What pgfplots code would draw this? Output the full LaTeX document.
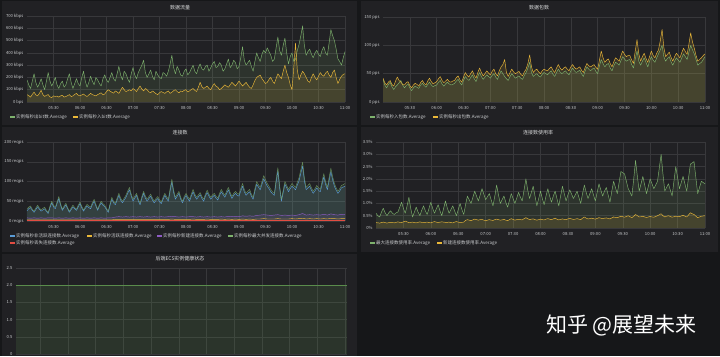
\documentclass[border=0pt]{standalone}
\usepackage{fontspec}
\setmainfont{Noto Sans CJK SC}
\usepackage{pgfplots}
\pgfplotsset{compat=1.18}
\usepackage{pgfplotstable}
\definecolor{pagebg}{HTML}{161719}
\definecolor{panelbg}{HTML}{212124}
\definecolor{gridc}{HTML}{38383B}
\definecolor{txt}{HTML}{D8D9DA}
\definecolor{tickc}{HTML}{C8CACC}
\definecolor{cg}{HTML}{7EB26D}
\definecolor{cy}{HTML}{EAB839}
\definecolor{cb}{HTML}{5A9BD5}
\definecolor{cp}{HTML}{8E5CC4}
\definecolor{cr}{HTML}{E24D42}
\definecolor{hg}{HTML}{5A8C4C}
\definecolor{hr}{HTML}{9A3030}

% 数据流量 (kbps)
\pgfplotstableread{
t g y
0 180 60
2 140 52
4 110 40
6 170 62
8 230 80
10 160 58
12 120 50
14 150 70
16 190 95
18 140 60
20 100 45
22 170 55
24 240 60
26 170 42
28 130 35
30 160 50
32 200 45
34 140 48
36 110 40
38 150 50
40 170 55
42 120 40
44 140 45
46 190 52
48 230 60
50 160 44
52 110 50
54 150 62
56 190 70
58 150 55
60 130 50
62 200 58
64 250 65
66 170 52
68 120 45
70 160 58
72 210 70
74 170 60
76 140 55
78 200 50
80 180 60
82 150 68
84 130 75
86 190 58
88 220 65
90 180 85
92 160 100
94 200 88
96 240 80
98 190 72
100 170 90
102 230 82
104 290 70
106 220 95
108 180 120
110 250 100
112 230 85
114 190 92
116 160 100
118 230 90
120 280 110
122 220 98
124 190 85
126 240 110
128 270 130
130 300 105
132 340 90
134 240 110
136 200 100
138 230 82
140 260 75
142 210 90
144 180 80
146 250 68
148 220 60
150 200 75
152 190 85
154 240 78
156 230 70
158 210 82
160 250 90
162 310 70
164 380 80
166 280 92
168 230 100
170 290 85
172 260 75
174 220 90
176 210 85
178 250 95
180 270 100
182 220 82
184 240 90
186 270 102
188 300 110
190 250 95
192 230 85
194 280 120
196 310 160
198 270 125
200 260 110
202 290 120
204 300 130
206 250 110
208 280 100
210 310 130
212 330 150
214 280 128
216 290 120
218 320 100
220 300 110
222 250 125
224 270 140
226 310 128
228 350 120
230 280 140
232 300 160
234 340 145
236 320 130
238 270 150
240 290 170
242 360 150
244 450 130
246 340 145
248 300 160
250 320 138
252 340 120
254 290 110
256 250 140
258 330 175
260 400 200
262 360 210
264 330 220
266 390 190
268 420 170
270 400 150
272 440 160
274 410 185
276 380 200
278 330 170
280 350 150
282 440 190
284 530 230
286 420 210
288 380 190
290 460 250
292 520 300
294 400 240
296 310 200
298 370 140
300 400 100
302 330 280
304 350 480
306 420 260
308 470 180
310 540 220
312 620 250
314 460 230
316 380 200
318 410 170
320 430 160
322 390 200
324 360 230
326 400 200
328 420 180
330 390 210
332 370 240
334 420 220
336 450 210
338 400 235
340 380 250
342 480 220
344 590 200
346 540 240
348 500 260
350 430 200
352 350 150
354 330 185
356 300 210
358 360 225
360 410 230
}\dA

% 数据包数 (pps)
\pgfplotstableread{
t g y
0 40 42
2 30 34
4 25 30
6 31 35
8 35 38
10 27 31
12 22 28
14 27 37
16 30 44
18 34 38
20 38 35
22 30 31
24 25 30
26 29 34
28 32 36
30 25 29
32 20 25
34 25 30
36 28 33
38 26 31
40 24 28
42 30 34
44 33 38
46 29 33
48 26 30
50 31 37
52 35 42
54 30 36
56 27 32
58 29 34
60 30 36
62 35 41
64 38 45
66 32 38
68 28 34
70 32 37
72 35 40
74 32 36
76 30 35
78 31 37
80 33 38
82 37 43
84 40 46
86 34 39
88 30 35
90 38 44
92 45 52
94 41 47
96 38 44
98 43 50
100 48 55
102 41 47
104 36 42
106 45 52
108 52 60
110 45 52
112 40 46
114 44 50
116 48 55
118 45 51
120 42 48
122 47 54
124 50 58
126 44 50
128 40 46
130 48 55
132 55 62
134 50 66
136 45 75
138 41 52
140 38 45
142 45 52
144 50 58
146 46 53
148 42 50
150 44 52
152 46 54
154 42 49
156 40 46
158 47 53
160 52 58
162 60 68
164 70 83
166 52 62
168 45 52
170 48 56
172 50 58
174 46 53
176 44 50
178 49 55
180 52 58
182 50 56
184 48 55
186 52 59
188 55 62
190 49 56
192 45 52
194 52 60
196 58 66
198 53 60
200 50 56
202 53 60
204 55 62
206 51 58
208 48 55
210 55 62
212 60 66
214 55 61
216 52 58
218 54 60
220 56 62
222 50 56
224 45 52
226 55 61
228 62 68
230 58 64
232 55 62
234 58 64
236 60 66
238 54 61
240 50 58
242 64 74
244 75 90
246 68 78
248 62 70
250 66 74
252 68 76
254 60 68
256 55 62
258 64 71
260 70 78
262 68 75
264 65 72
266 73 82
268 80 90
270 76 84
272 72 80
274 74 82
276 75 82
278 66 74
280 60 68
282 76 90
284 90 110
286 72 85
288 65 72
290 72 80
292 78 86
294 70 77
296 62 70
298 72 80
300 80 90
302 74 82
304 70 78
306 78 86
308 85 92
310 92 108
312 100 128
314 80 96
316 72 80
318 77 84
320 80 88
322 71 79
324 65 72
326 72 80
328 78 86
330 74 82
332 70 78
334 78 87
336 85 95
338 80 89
340 75 84
342 88 102
344 100 122
346 92 106
348 85 95
350 75 82
352 65 72
354 68 75
356 70 78
358 75 82
360 80 85
}\dB

% 连接数 (reqps): max concurrent (g), inactive (b)
\pgfplotstableread{
t g b
0 30 26
2 35 31
4 38 34
6 30 27
8 25 22
10 33 29
12 40 36
14 33 30
16 28 25
18 32 28
20 35 31
22 27 24
24 22 19
26 38 34
28 50 46
30 40 36
32 35 31
34 48 44
36 62 57
38 44 40
40 30 27
42 38 34
44 45 41
46 34 31
48 25 22
50 33 29
52 40 36
54 34 31
56 30 27
58 40 36
60 48 44
62 37 33
64 28 25
66 36 32
68 42 38
70 38 34
72 35 31
74 46 42
76 55 50
78 42 38
80 30 27
82 42 38
84 50 46
86 44 40
88 40 36
90 32 29
92 25 22
94 44 40
96 60 55
98 50 46
100 45 41
102 58 53
104 70 65
106 58 53
108 50 46
110 58 53
112 65 60
114 76 70
116 85 79
118 68 63
120 55 50
122 63 58
124 70 65
126 56 51
128 45 41
130 62 57
132 75 70
134 63 58
136 55 50
138 62 57
140 68 63
142 58 53
144 50 46
146 57 52
148 62 57
150 54 49
152 48 44
154 60 55
156 70 65
158 62 57
160 55 50
162 82 76
164 106 99
166 78 72
168 60 55
170 68 63
172 75 70
174 60 55
176 50 46
178 62 57
180 70 65
182 62 57
184 55 50
186 68 63
188 80 74
190 68 63
192 60 55
194 66 61
196 72 67
198 62 57
200 55 50
202 68 63
204 78 72
206 68 63
208 60 55
210 66 61
212 70 65
214 63 58
216 58 53
218 70 65
220 80 74
222 72 67
224 65 60
226 76 70
228 85 79
230 72 67
232 62 57
234 70 65
236 75 70
238 70 65
240 68 63
242 82 76
244 95 88
246 80 74
248 70 65
250 76 70
252 80 74
254 68 63
256 60 55
258 82 76
260 100 93
262 92 86
264 85 79
266 100 93
268 115 107
270 104 97
272 95 88
274 88 82
276 80 74
278 74 69
280 70 65
282 105 98
284 135 126
286 90 84
288 55 50
290 78 72
292 100 93
294 90 84
296 80 74
298 88 82
300 95 88
302 90 84
304 85 79
306 98 91
308 110 102
310 130 121
312 149 139
314 110 102
316 85 79
318 90 84
320 95 88
322 84 78
324 75 70
326 82 76
328 90 84
330 84 78
332 80 74
334 100 93
336 120 112
338 100 93
340 85 79
342 110 102
344 134 125
346 112 104
348 95 88
350 84 78
352 75 70
354 82 76
356 90 84
358 92 86
360 95 88
}\dC

% 连接数: new (p), active (y), dropped (r)
\pgfplotstableread{
t p y r
0 8 3 1
4 7 3 1
8 8 3 1
12 7 3 1
16 8 3 1
20 7 3 1
24 8 3 1
28 8 3 1
32 7 3 1
36 8 3 1
40 7 3 1
44 8 3 1
48 7 3 1
52 8 3 1
56 7 3 1
60 8 3 1
64 7 3 1
68 8 3 1
72 7 3 1
76 8 3 1
80 7 3 1
84 8 3 1
88 7 3 1
92 8 3 1
96 8 3 1
100 10 4 1
104 11 4 1
108 10 4 1
112 11 4 1
116 10 4 1
120 11 4 1
124 10 4 1
128 11 4 1
132 10 4 1
136 11 4 1
140 10 4 1
144 11 4 1
148 10 4 1
152 11 4 1
156 10 4 1
160 11 4 1
164 12 5 1
168 11 4 1
172 10 4 1
176 11 4 1
180 10 4 1
184 11 4 1
188 11 5 1
192 10 4 1
196 11 4 1
200 10 4 1
204 11 5 1
208 10 4 1
212 11 4 1
216 10 4 1
220 11 5 1
224 10 4 1
228 12 5 1
232 11 4 1
236 12 5 1
240 11 4 1
244 13 5 1
248 12 4 1
252 13 5 1
256 12 4 1
260 14 5 1
264 15 5 1
268 16 6 1
272 15 5 1
276 14 5 1
280 15 5 1
284 16 6 1
288 14 5 1
292 15 5 1
296 14 5 1
300 15 6 1
304 14 5 1
308 16 6 1
312 19 7 1
316 15 5 1
320 16 6 1
324 15 5 1
328 16 6 1
332 15 5 1
336 17 6 1
340 15 5 1
344 18 7 1
348 16 6 1
352 15 5 1
356 17 6 1
360 16 6 1
}\dCs

% 连接数使用率 (%)
\pgfplotstableread{
t g y
0 0.6 0.22
2 0.5 0.21
4 0.45 0.2
6 0.65 0.22
8 0.8 0.24
10 0.62 0.22
12 0.5 0.2
14 0.62 0.22
16 0.7 0.23
18 0.6 0.22
20 0.55 0.21
22 0.62 0.23
24 0.65 0.25
26 0.85 0.23
28 1.05 0.22
30 0.8 0.25
32 0.6 0.28
34 0.9 0.25
36 1.25 0.22
38 0.8 0.23
40 0.45 0.24
42 0.65 0.22
44 0.85 0.21
46 0.65 0.23
48 0.5 0.25
50 0.72 0.23
52 0.9 0.22
54 0.7 0.23
56 0.55 0.24
58 0.8 0.22
60 1.05 0.21
62 0.8 0.24
64 0.6 0.26
66 0.78 0.24
68 0.95 0.22
70 0.7 0.24
72 0.5 0.25
74 0.8 0.24
76 1.1 0.23
78 0.82 0.23
80 0.6 0.24
82 0.75 0.22
84 0.9 0.21
86 0.7 0.24
88 0.5 0.26
90 0.75 0.24
92 1.0 0.22
94 0.75 0.23
96 0.55 0.24
98 0.95 0.31
100 1.3 0.34
102 1.15 0.32
104 1.0 0.3
106 1.25 0.33
108 1.5 0.36
110 1.3 0.34
112 1.1 0.32
114 1.35 0.34
116 1.6 0.35
118 1.38 0.32
120 1.15 0.3
122 1.28 0.32
124 1.4 0.34
126 1.15 0.32
128 0.9 0.31
130 1.3 0.34
132 1.75 0.36
134 1.35 0.34
136 1.0 0.32
138 1.15 0.33
140 1.3 0.35
142 1.05 0.32
144 0.85 0.3
146 1.12 0.34
148 1.4 0.38
150 1.2 0.35
152 1.0 0.32
154 1.22 0.34
156 1.45 0.35
158 1.25 0.34
160 1.1 0.33
162 1.55 0.38
164 2.0 0.42
166 1.55 0.38
168 1.2 0.34
170 1.45 0.36
172 1.7 0.37
174 1.3 0.34
176 0.9 0.32
178 1.2 0.34
180 1.5 0.36
182 1.2 0.34
184 0.95 0.33
186 1.3 0.36
188 1.6 0.38
190 1.3 0.36
192 1.05 0.34
194 1.3 0.37
196 1.5 0.4
198 1.2 0.36
200 0.9 0.33
202 1.3 0.35
204 1.7 0.37
206 1.4 0.35
208 1.1 0.34
210 1.35 0.37
212 1.55 0.39
214 1.38 0.37
216 1.2 0.35
218 1.35 0.36
220 1.5 0.38
222 1.25 0.36
224 1.0 0.34
226 1.4 0.4
228 1.75 0.45
230 1.45 0.4
232 1.2 0.37
234 1.4 0.38
236 1.6 0.4
238 1.35 0.38
240 1.1 0.36
242 1.45 0.39
244 1.8 0.42
246 1.55 0.4
248 1.3 0.38
250 1.5 0.4
252 1.65 0.41
254 1.35 0.39
256 1.05 0.37
258 1.5 0.41
260 1.9 0.45
262 1.65 0.43
264 1.4 0.42
266 1.85 0.45
268 2.3 0.48
270 2.25 0.46
272 2.2 0.44
274 1.9 0.47
276 1.6 0.5
278 1.45 0.46
280 1.3 0.42
282 2.0 0.48
284 2.75 0.55
286 2.1 0.5
288 1.5 0.45
290 1.8 0.46
292 2.1 0.48
294 1.75 0.45
296 1.4 0.43
298 1.7 0.45
300 2.0 0.47
302 1.8 0.45
304 1.6 0.44
306 1.75 0.47
308 1.9 0.5
310 2.45 0.54
312 3.0 0.58
314 2.2 0.5
316 1.5 0.45
318 1.65 0.48
320 1.8 0.5
322 1.55 0.47
324 1.3 0.44
326 1.9 0.46
328 2.5 0.48
330 2.05 0.47
332 1.6 0.46
334 1.85 0.49
336 2.1 0.52
338 1.8 0.48
340 1.5 0.45
342 2.05 0.53
344 2.6 0.62
346 2.65 0.58
348 2.7 0.55
350 2.05 0.48
352 1.4 0.42
354 1.65 0.45
356 1.9 0.48
358 1.85 0.49
360 1.8 0.5
}\dD

\pgfplotsset{
  gf/.style={scale only axis, axis line style={draw=none}, major tick length=0pt,
    xmajorgrids, ymajorgrids, major grid style={draw=gridc, line width=0.45pt},
    xmin=0, xmax=360, ymin=0, xtick={30,60,...,360},
    xticklabels={05:30,06:00,06:30,07:00,07:30,08:00,08:30,09:00,09:30,10:00,10:30,11:00},
    tick label style={font=\fontsize{4.2}{5}\selectfont, text=tickc},
    xticklabel style={yshift=-1.2pt},
  },
  ln/.style={line width=0.45pt, line join=round},
  ar/.style={draw=none, fill=#1, fill opacity=0.13},
}
\newcommand\lgd[4]{%
  \fill[#3] (#1,#2-0.7) rectangle (#1+4.5,#2+0.7);
  \node[anchor=west, inner sep=0, font=\fontsize{4.5}{5}\selectfont, text=tickc] at (#1+6,#2) {#4};}
\newcommand\ttl[3]{\node[font=\fontsize{5}{6}\selectfont, text=txt] at (#1,#2) {#3};}

\begin{document}
\begin{tikzpicture}[x=1pt,y=1pt]
\useasboundingbox (0,0) rectangle (720,356);
\fill[pagebg] (0,0) rectangle (720,356);
\fill[panelbg] (2,231) rectangle (357,355);
\fill[panelbg] (361,231) rectangle (718,355);
\fill[panelbg] (2,104) rectangle (357,229);
\fill[panelbg] (361,104) rectangle (718,229);
\fill[panelbg] (2,0) rectangle (357,102);

% Panel 1
\begin{axis}[gf, at={(27pt,254pt)}, anchor=south west, width=318pt, height=86pt,
  ymax=700, ytick={0,100,200,300,400,500,600,700},
  yticklabels={0 bps,100 kbps,200 kbps,300 kbps,400 kbps,500 kbps,600 kbps,700 kbps}]
\addplot[ar=cg] table[x=t,y=g]{\dA} \closedcycle;
\addplot[ar=cy] table[x=t,y=y]{\dA} \closedcycle;
\addplot[ln, cg] table[x=t,y=g]{\dA};
\addplot[ln, cy] table[x=t,y=y]{\dA};
\end{axis}
\ttl{180}{348}{数据流量}
\lgd{10}{239}{cg}{实例每秒出bit数.Average}
\lgd{73}{239}{cy}{实例每秒入bit数.Average}

% Panel 2
\begin{axis}[gf, at={(383pt,254pt)}, anchor=south west, width=322pt, height=85pt,
  ymax=150, ytick={0,50,100,150},
  yticklabels={0 pps,50 pps,100 pps,150 pps}]
\addplot[ar=cg] table[x=t,y=g]{\dB} \closedcycle;
\addplot[ar=cy] table[x=t,y=y]{\dB} \closedcycle;
\addplot[ln, cg] table[x=t,y=g]{\dB};
\addplot[ln, cy] table[x=t,y=y]{\dB};
\end{axis}
\ttl{539}{348}{数据包数}
\lgd{370}{239}{cg}{实例每秒入包数.Average}
\lgd{433}{239}{cy}{实例每秒出包数.Average}

% Panel 3
\begin{axis}[gf, at={(27pt,135pt)}, anchor=south west, width=318pt, height=79pt,
  ymax=200, ytick={0,50,100,150,200},
  yticklabels={0 reqps,50 reqps,100 reqps,150 reqps,200 reqps}]
\addplot[ar=cb] table[x=t,y=b]{\dC} \closedcycle;
\addplot[ar=cg] table[x=t,y=g]{\dC} \closedcycle;
\addplot[ar=cp] table[x=t,y=p]{\dCs} \closedcycle;
\addplot[ln, cb] table[x=t,y=b]{\dC};
\addplot[ln, cy] table[x=t,y=y]{\dCs};
\addplot[ln, cp] table[x=t,y=p]{\dCs};
\addplot[ln, cg, opacity=0.7] table[x=t,y=g]{\dC};
\addplot[ln, cr] table[x=t,y=r]{\dCs};
\end{axis}
\ttl{180}{223}{连接数}
\lgd{10}{120}{cb}{实例每秒非活跃连接数.Average}
\lgd{87}{120}{cy}{实例每秒活跃连接数.Average}
\lgd{157}{120}{cp}{实例每秒新建连接数.Average}
\lgd{228}{120}{cg}{实例每秒最大并发连接数.Average}
\lgd{10}{113}{cr}{实例每秒丢失连接数.Average}

% Panel 4
\begin{axis}[gf, at={(376pt,128pt)}, anchor=south west, width=329pt, height=86pt,
  ymax=3.5, ytick={0,0.5,1,1.5,2,2.5,3,3.5},
  yticklabels={0\%,0.5\%,1.0\%,1.5\%,2.0\%,2.5\%,3.0\%,3.5\%}]
\addplot[ar=cg] table[x=t,y=g]{\dD} \closedcycle;
\addplot[ar=cy] table[x=t,y=y]{\dD} \closedcycle;
\addplot[ln, cg] table[x=t,y=g]{\dD};
\addplot[ln, cy] table[x=t,y=y]{\dD};
\end{axis}
\ttl{538}{223}{连接数使用率}
\lgd{370}{113}{cg}{最大连接数使用率.Average}
\lgd{437}{113}{cy}{新建连接数使用率.Average}

% Panel 5
\begin{axis}[gf, at={(16pt,2pt)}, anchor=south west, width=331pt, height=86pt,
  xmin=4, xmax=362, xticklabels={},
  ymax=2.5, ytick={0,0.5,1,1.5,2,2.5},
  yticklabels={0,0.5,1.0,1.5,2.0,2.5}]
\addplot[draw=none, fill=hg, fill opacity=0.18] coordinates {(4,2) (362,2)} \closedcycle;
\addplot[line width=0.6pt, draw=hg] coordinates {(4,2) (362,2)};
\addplot[line width=0.8pt, draw=hr] coordinates {(4,0) (362,0)};
\end{axis}
\ttl{180}{97}{后端ECS实例健康状态}

\node[anchor=west, text=white, font=\fontsize{21}{23}\selectfont, inner sep=0] at (546,31) {知乎 @展望未来};
\end{tikzpicture}
\end{document}
